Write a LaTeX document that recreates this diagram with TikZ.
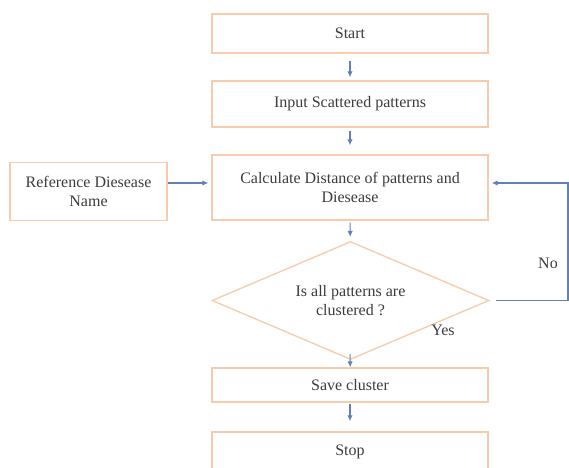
\documentclass[tikz,border=0pt]{standalone}
\usepackage{fontspec}
\setmainfont{Liberation Serif}
\usetikzlibrary{arrows.meta,shapes.geometric}

\definecolor{boxline}{RGB}{247,203,172}
\definecolor{flowline}{RGB}{96,128,186}
\definecolor{labeltext}{RGB}{60,60,60}

\tikzset{
  flowbox/.style={draw=boxline, line width=1pt, fill=white, minimum width=207pt,
    align=center, inner sep=1pt, text=labeltext, font=\rmfamily\fontsize{12}{14}\selectfont},
  decision/.style={flowbox, diamond, aspect=2.35, minimum width=207.75pt, minimum height=88.5pt, inner sep=0pt},
  flow/.style={draw=flowline, line width=0.8pt, -{Latex[length=4.5pt,width=4pt]}},
  sidenote/.style={text=labeltext, font=\rmfamily\fontsize{12}{14}\selectfont, inner sep=0.75pt}
}

\begin{document}
\begin{tikzpicture}[x=0.75pt,y=0.75pt,yscale=-1,xscale=1]
\clip (0,0) rectangle (569,468);
\fill [white] (0,0) rectangle (569,468);

%Shape: Rectangle [id:start]
\node [flowbox, minimum height=29.25pt] (start) at (350,33.5) {Start};
%Shape: Rectangle [id:input]
\node [flowbox, minimum height=34.5pt] (input) at (350,104) {Input Scattered patterns};
%Shape: Rectangle [id:calc]
\node [flowbox, minimum height=48.75pt] (calc) at (350,187.5) {Calculate Distance of patterns and\\Diesease};
%Shape: Rectangle [id:refname]
\node [flowbox, minimum width=117.75pt, minimum height=43.5pt] (refname) at (88.5,191.5) {Reference Diesease\\Name};
%Shape: Diamond [id:check]
\node [decision] (check) at (350.5,300.5) {Is all patterns are\\clustered ?};
%Shape: Rectangle [id:save]
\node [flowbox, minimum height=25.5pt] (save) at (350,385) {Save cluster};
%Shape: Rectangle [id:stop]
\node [flowbox, minimum height=30pt] (stop) at (350,452) {Stop};

%Straight Lines
\draw [flow, shorten <=7pt*0.75, shorten >=3pt*0.75] (start) -- (input);
\draw [flow, shorten <=3pt*0.75, shorten >=9pt*0.75] (input) -- (calc);
\draw [flow, shorten <=2pt*0.75, shorten >=4pt*0.75] (calc) -- (check);
\draw [flow, shorten <=-6pt*0.75] (check) -- (save);
\draw [flow, shorten <=1pt*0.75, shorten >=10pt*0.75] (save) -- (stop);
\draw [flow, shorten >=3pt*0.75] (refname.east |- 0,183) -- (calc.west |- 0,183);
%Feedback line
\draw [flow, shorten <=6pt*0.75, shorten >=3pt*0.75] (check.east) -- (568,300.5) |- (calc.east |- 0,183);

% Text Node
\node [sidenote] (nolabel) at (548,263) {No};
% Text Node
\node [sidenote] (yeslabel) at (443,330) {Yes};

\end{tikzpicture}
\end{document}
